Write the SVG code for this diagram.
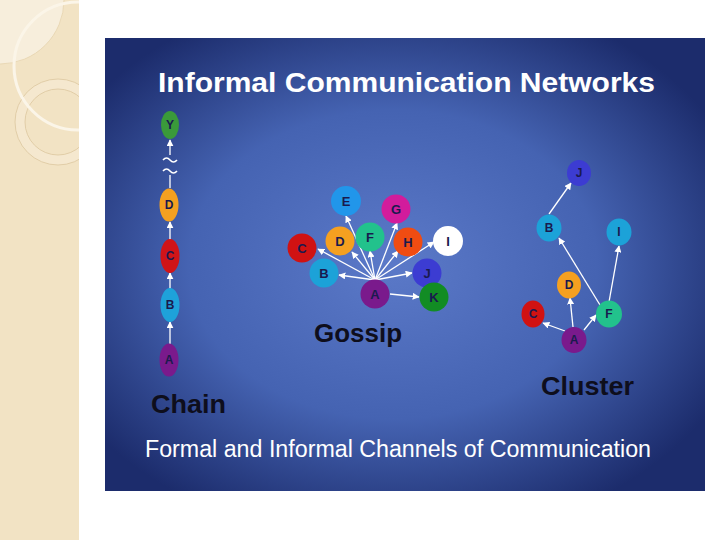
<svg xmlns="http://www.w3.org/2000/svg" width="720" height="540" viewBox="0 0 720 540">
<defs>
  <radialGradient id="bg" cx="0.48" cy="0.5" r="0.62">
    <stop offset="0" stop-color="#5b79c8"/>
    <stop offset="0.55" stop-color="#4563b2"/>
    <stop offset="1" stop-color="#1c2c6c"/>
  </radialGradient>
  <clipPath id="strip"><rect x="0" y="0" width="79" height="540"/></clipPath>
  <marker id="ah" viewBox="0 0 10 10" refX="9" refY="5" markerWidth="7" markerHeight="7" markerUnits="userSpaceOnUse" orient="auto">
    <path d="M0,0 L10,5 L0,10 z" fill="#ffffff"/>
  </marker>
  <style>
    .lbl{font-family:"Liberation Sans",Arial,sans-serif;font-weight:bold;fill:#1a1a4e;text-anchor:middle;dominant-baseline:central}
    .big{font-family:"Liberation Sans",Arial,sans-serif;font-weight:bold;fill:#0e0e1c}
    .con line{stroke:#ffffff;stroke-width:1.3;marker-end:url(#ah)}
    .sq{fill:none;stroke:#ffffff;stroke-width:1.6}
  </style>
</defs>
<rect width="720" height="540" fill="#ffffff"/>
<g id="strip-bg" clip-path="url(#strip)">
  <rect x="0" y="0" width="79" height="540" fill="#f2e3c4"/>
  <circle cx="0" cy="0" r="64" fill="#f7eedc" stroke="#e6d3ad" stroke-width="0.8"/>
  <circle cx="58" cy="122" r="43" fill="#f5e8cf" stroke="#dcc79e" stroke-width="0.8"/>
  <circle cx="58" cy="122" r="33" fill="#f2e3c4" stroke="#dcc79e" stroke-width="0.8"/>
  <circle cx="78" cy="66" r="64" fill="none" stroke="#fbf5e8" stroke-width="3"/>
</g>
<rect x="105" y="38" width="600" height="453" fill="url(#bg)"/>
<text x="158" y="92" font-family="'Liberation Sans',Arial,sans-serif" font-weight="bold" font-size="28" fill="#ffffff" textLength="497" lengthAdjust="spacingAndGlyphs">Informal Communication Networks</text>
<text x="145" y="457" font-family="'Liberation Sans',Arial,sans-serif" font-size="23" fill="#ffffff" textLength="506" lengthAdjust="spacingAndGlyphs">Formal and Informal Channels of Communication</text>

<g id="connectors" class="con">
  <line x1="170" y1="344" x2="170" y2="322"/>
  <line x1="170" y1="289" x2="170" y2="273"/>
  <line x1="170" y1="240" x2="170" y2="222"/>
  <line x1="170" y1="188" x2="170" y2="175" style="marker-end:none"/>
  <line x1="170" y1="155" x2="170" y2="140"/>
  <path class="sq" d="M163,171 q3.5,-4 7,0 t7,0"/>
  <path class="sq" d="M163,160 q3.5,-4 7,0 t7,0"/>

  <line x1="375" y1="280" x2="346" y2="216"/>
  <line x1="375" y1="280" x2="397" y2="223"/>
  <line x1="375" y1="280" x2="352" y2="252"/>
  <line x1="375" y1="280" x2="370" y2="251"/>
  <line x1="375" y1="280" x2="398" y2="251"/>
  <line x1="375" y1="280" x2="434" y2="242"/>
  <line x1="375" y1="280" x2="318" y2="249"/>
  <line x1="375" y1="280" x2="339" y2="275"/>
  <line x1="375" y1="280" x2="412" y2="273"/>
  <line x1="390" y1="294" x2="419" y2="297"/>

  <line x1="549" y1="214" x2="571" y2="183"/>
  <line x1="600" y1="305" x2="559" y2="238"/>
  <line x1="609" y1="302" x2="619" y2="246"/>
  <line x1="573" y1="327" x2="570" y2="298"/>
  <line x1="565" y1="331" x2="543" y2="323"/>
  <line x1="584" y1="330" x2="596" y2="315"/>
</g>

<g id="chain-Y"><ellipse cx="170" cy="125" rx="9" ry="14" fill="#3a9a3a"/><text class="lbl" x="170" y="125" font-size="12">Y</text></g>
<g id="chain-D"><ellipse cx="169" cy="205" rx="9.5" ry="16.5" fill="#f4a020"/><text class="lbl" x="169" y="205" font-size="12">D</text></g>
<g id="chain-C"><ellipse cx="170" cy="256" rx="9.5" ry="17" fill="#d01418"/><text class="lbl" x="170" y="256" font-size="12">C</text></g>
<g id="chain-B"><ellipse cx="170" cy="305" rx="9.5" ry="17" fill="#1ea2da"/><text class="lbl" x="170" y="305" font-size="12">B</text></g>
<g id="chain-A"><ellipse cx="169" cy="360" rx="9.5" ry="16.5" fill="#7a1a8c"/><text class="lbl" x="169" y="360" font-size="12">A</text></g>
<text class="big" x="151" y="413" font-size="26" textLength="75" lengthAdjust="spacingAndGlyphs">Chain</text>

<g id="gossip-E"><circle cx="346" cy="201" r="15" fill="#2196ea"/><text class="lbl" x="346" y="201" font-size="13">E</text></g>
<g id="gossip-G"><circle cx="396" cy="209" r="14.5" fill="#d21c9c"/><text class="lbl" x="396" y="209" font-size="13">G</text></g>
<g id="gossip-D"><circle cx="340" cy="241" r="14.5" fill="#f5a020"/><text class="lbl" x="340" y="241" font-size="13">D</text></g>
<g id="gossip-F"><circle cx="370" cy="237" r="14.5" fill="#22c28c"/><text class="lbl" x="370" y="237" font-size="13">F</text></g>
<g id="gossip-H"><circle cx="408" cy="242" r="14.5" fill="#f04c12"/><text class="lbl" x="408" y="242" font-size="13">H</text></g>
<g id="gossip-I"><circle cx="448" cy="241" r="15" fill="#ffffff"/><text class="lbl" x="448" y="241" font-size="13">I</text></g>
<g id="gossip-C"><circle cx="302" cy="248" r="14.5" fill="#d01212"/><text class="lbl" x="302" y="248" font-size="13">C</text></g>
<g id="gossip-B"><circle cx="324" cy="273" r="14.5" fill="#1ca2d8"/><text class="lbl" x="324" y="273" font-size="13">B</text></g>
<g id="gossip-J"><circle cx="427" cy="273" r="14.5" fill="#3c3cd2"/><text class="lbl" x="427" y="273" font-size="13">J</text></g>
<g id="gossip-K"><circle cx="434" cy="297" r="14.5" fill="#128c24"/><text class="lbl" x="434" y="297" font-size="13">K</text></g>
<g id="gossip-A"><circle cx="375" cy="294" r="14.5" fill="#7a1a8c"/><text class="lbl" x="375" y="294" font-size="13">A</text></g>
<text class="big" x="314" y="342" font-size="26" textLength="88" lengthAdjust="spacingAndGlyphs">Gossip</text>

<g id="cluster-J"><ellipse cx="579" cy="173" rx="12" ry="13" fill="#3c3cd2"/><text class="lbl" x="579" y="173" font-size="12">J</text></g>
<g id="cluster-B"><ellipse cx="549" cy="228" rx="12.5" ry="13.5" fill="#1ca2d8"/><text class="lbl" x="549" y="228" font-size="12">B</text></g>
<g id="cluster-I"><ellipse cx="619" cy="232" rx="12.5" ry="13.5" fill="#1ca2d8"/><text class="lbl" x="619" y="232" font-size="12">I</text></g>
<g id="cluster-D"><ellipse cx="569" cy="285" rx="12" ry="13.5" fill="#f5a020"/><text class="lbl" x="569" y="285" font-size="12">D</text></g>
<g id="cluster-C"><ellipse cx="533" cy="314" rx="11.5" ry="13.5" fill="#d01212"/><text class="lbl" x="533" y="314" font-size="12">C</text></g>
<g id="cluster-F"><ellipse cx="609" cy="314" rx="13" ry="13.5" fill="#22c28c"/><text class="lbl" x="609" y="314" font-size="12">F</text></g>
<g id="cluster-A"><ellipse cx="574" cy="340" rx="12.5" ry="13" fill="#7a1a8c"/><text class="lbl" x="574" y="340" font-size="12">A</text></g>
<text class="big" x="541" y="395" font-size="26" textLength="93" lengthAdjust="spacingAndGlyphs">Cluster</text>
</svg>
